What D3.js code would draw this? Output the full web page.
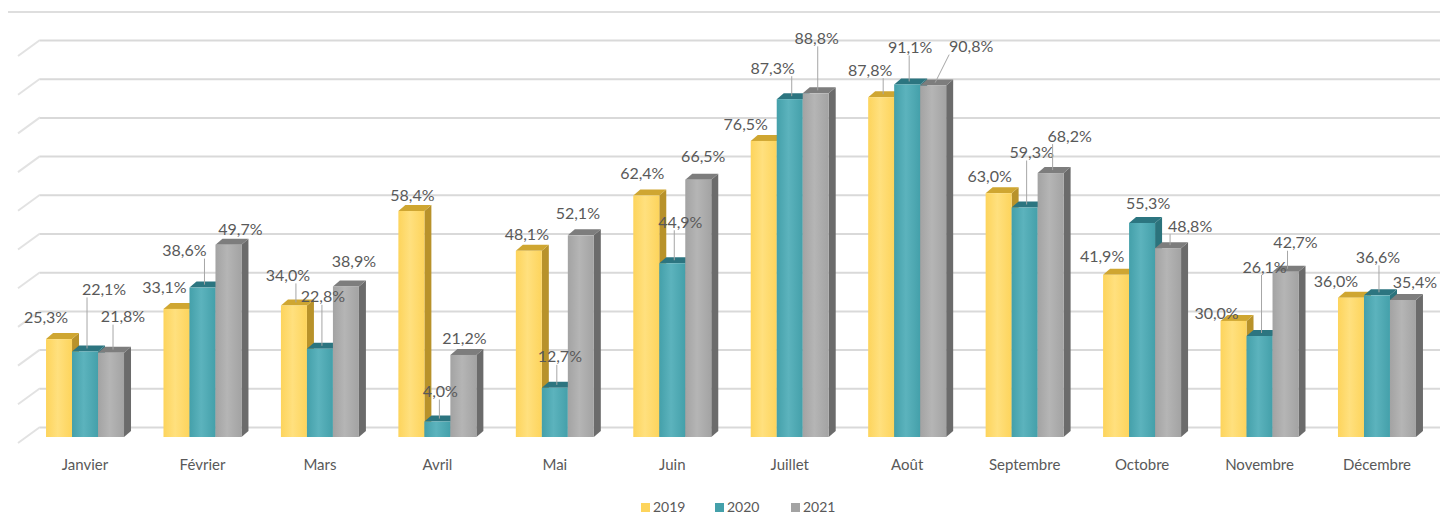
<!DOCTYPE html>
<html>
<head>
<meta charset="utf-8">
<script src="https://cdn.jsdelivr.net/npm/d3@7"></script>
<style>
  html, body { margin: 0; padding: 0; background: #fff; }
  svg { display: block; font-family: Lato, "Open Sans", sans-serif; }
</style>
</head>
<body>
<div id="chart"></div>
<script>
// data
const months = ['Janvier', 'Février', 'Mars', 'Avril', 'Mai', 'Juin', 'Juillet', 'Août', 'Septembre', 'Octobre', 'Novembre', 'Décembre'];
const years = ['2019', '2020', '2021'];
const v2019 = [25.3, 33.1, 34.0, 58.4, 48.1, 62.4, 76.5, 87.8, 63.0, 41.9, 30.0, 36.0];
const v2020 = [22.1, 38.6, 22.8, 4.0, 12.7, 44.9, 87.3, 91.1, 59.3, 55.3, 26.1, 36.6];
const v2021 = [21.8, 49.7, 38.9, 21.2, 52.1, 66.5, 88.8, 90.8, 68.2, 48.8, 42.7, 35.4];
const gridTicks = [0, 10, 20, 30, 40, 50, 60, 70, 80, 90, 100];

// label nudges (dx, dy from bar top), as they were moved by hand in the original
const nudge2019 = [[-13,-22],[-12,-22],[-6,-30],[1,-16],[-2,-16],[-4,-22],[-18,-17],[-11,-27],[-9,-17],[-14,-18],[-17,-8],[-15,-16]];
const nudge2020 = [[19,-62],[-18,-37],[3,-52],[3,-30],[5,-31],[8,-41],[-17,-31],[3,-37],[7,-55],[6,-20],[5,-69],[1,-38]];
const nudge2021 = [[12,-36],[12,-15],[8,-25],[1,-17],[-3,-22],[5,-23],[1,-55],[38,-39],[19,-37],[22,-22],[10,-29],[12,-18]];

const width = 1440, height = 516;
const depthX = 7, depthY = 6;

const colors = {
  '2019': { front: '#fdd45c', light: '#ffe07e', top: '#cfa631', side: '#b8922a' },
  '2020': { front: '#44a0aa', light: '#5cb3bd', top: '#2c7580', side: '#2b737c' },
  '2021': { front: '#a3a3a3', light: '#b5b5b5', top: '#7d7d7d', side: '#6b6b6b' }
};

const svg = d3.select('#chart').append('svg')
  .attr('width', width)
  .attr('height', height);

const defs = svg.append('defs');
years.forEach(yr => {
  const g = defs.append('linearGradient').attr('id', 'grad' + yr)
    .attr('x1', '0%').attr('x2', '100%').attr('y1', '0%').attr('y2', '0%');
  g.append('stop').attr('offset', '0%').attr('stop-color', colors[yr].front);
  g.append('stop').attr('offset', '45%').attr('stop-color', colors[yr].light);
  g.append('stop').attr('offset', '100%').attr('stop-color', colors[yr].front);
});

const x = d3.scaleBand().domain(months).range([26.3, 1435.7]).paddingInner(0.336).paddingOuter(0.168);
const xs = d3.scaleBand().domain(years).range([0, x.bandwidth()]);
const y = d3.scaleLinear().domain([0, 100]).range([437, 50]);
const yWall = d3.scaleLinear().domain([0, 100]).range([427, 40]);

// back wall top edge
svg.append('line')
  .attr('x1', 8).attr('x2', width).attr('y1', 12).attr('y2', 12)
  .style('stroke', '#dedede').style('stroke-width', 2);

// side wall diagonals
svg.append('g').selectAll('line')
  .data(gridTicks)
  .enter().append('line')
  .attr('x1', 40).attr('y1', d => yWall(d))
  .attr('x2', 18).attr('y2', d => yWall(d) + 16)
  .style('stroke', '#e2e2e2').style('stroke-width', 2);

// back wall gridlines
const grid = svg.append('g')
  .attr('transform', 'translate(40,0)')
  .call(d3.axisLeft(yWall).tickValues(gridTicks).tickSize(-(width - 40)).tickFormat(''));
grid.select('.domain').remove();
grid.selectAll('.tick line').style('stroke', '#d9d9d9').style('stroke-width', 2);

// bars
const series = [
  { year: '2019', values: v2019, nudge: nudge2019 },
  { year: '2020', values: v2020, nudge: nudge2020 },
  { year: '2021', values: v2021, nudge: nudge2021 }
];

const rows = [];
months.forEach((m, i) => {
  series.forEach(s => {
    rows.push({ month: m, year: s.year, value: s.values[i], nudge: s.nudge[i] });
  });
});

const bw = xs.bandwidth();
const base = y(0);
const bars = svg.append('g').selectAll('.bar')
  .data(rows)
  .enter().append('g')
  .attr('class', 'bar');

bars.append('path')
  .attr('d', d => {
    const x0 = x(d.month) + xs(d.year) + bw, t = y(d.value);
    return `M${x0},${t}L${x0 + depthX},${t - depthY}L${x0 + depthX},${base - depthY}L${x0},${base}Z`;
  })
  .style('fill', d => colors[d.year].side);

bars.append('path')
  .attr('d', d => {
    const x0 = x(d.month) + xs(d.year), t = y(d.value);
    return `M${x0},${t}L${x0 + bw},${t}L${x0 + bw + depthX},${t - depthY}L${x0 + depthX},${t - depthY}Z`;
  })
  .style('fill', d => colors[d.year].top);

bars.append('rect')
  .attr('x', d => x(d.month) + xs(d.year))
  .attr('y', d => y(d.value))
  .attr('width', bw)
  .attr('height', d => base - y(d.value))
  .style('fill', d => 'url(#grad' + d.year + ')');

// data labels with leader lines
const fmt = v => d3.format('.1f')(v).replace('.', ',') + '%';
const labels = svg.append('g');
rows.forEach(d => {
  const cx = x(d.month) + xs(d.year) + bw / 2;
  const t = y(d.value);
  const lx = cx + d.nudge[0], ly = t + d.nudge[1];
  if (d.nudge[1] < -26 || Math.abs(d.nudge[0]) > 20) {
    const sx = Math.max(lx - 22, Math.min(lx + 22, cx + 2));
    labels.append('line')
      .attr('x1', sx).attr('y1', ly + 8)
      .attr('x2', cx + 2).attr('y2', t - depthY / 2)
      .style('stroke', '#a6a6a6').style('stroke-width', 1);
  }
  labels.append('text')
    .attr('x', lx).attr('y', ly)
    .attr('dy', '0.35em')
    .attr('text-anchor', 'middle')
    .style('font-size', '16px')
    .style('fill', '#595959')
    .text(fmt(d.value));
});

// category axis
const xAxis = svg.append('g')
  .attr('transform', 'translate(0,459)')
  .call(d3.axisBottom(x).tickSize(0).tickPadding(0));
xAxis.select('.domain').remove();
xAxis.selectAll('text')
  .style('font-family', 'Lato, "Open Sans", sans-serif')
  .style('font-size', '15px')
  .style('fill', '#595959');

// legend
const legendX = [641, 715, 791];
const legend = svg.append('g').selectAll('g')
  .data(years)
  .enter().append('g')
  .attr('transform', (d, i) => `translate(${legendX[i]},503)`);
legend.append('rect')
  .attr('width', 9).attr('height', 9)
  .style('fill', d => colors[d].front);
legend.append('text')
  .attr('x', 12).attr('y', 9)
  .style('font-size', '14px')
  .style('fill', '#595959')
  .text(d => d);
</script>
</body>
</html>
